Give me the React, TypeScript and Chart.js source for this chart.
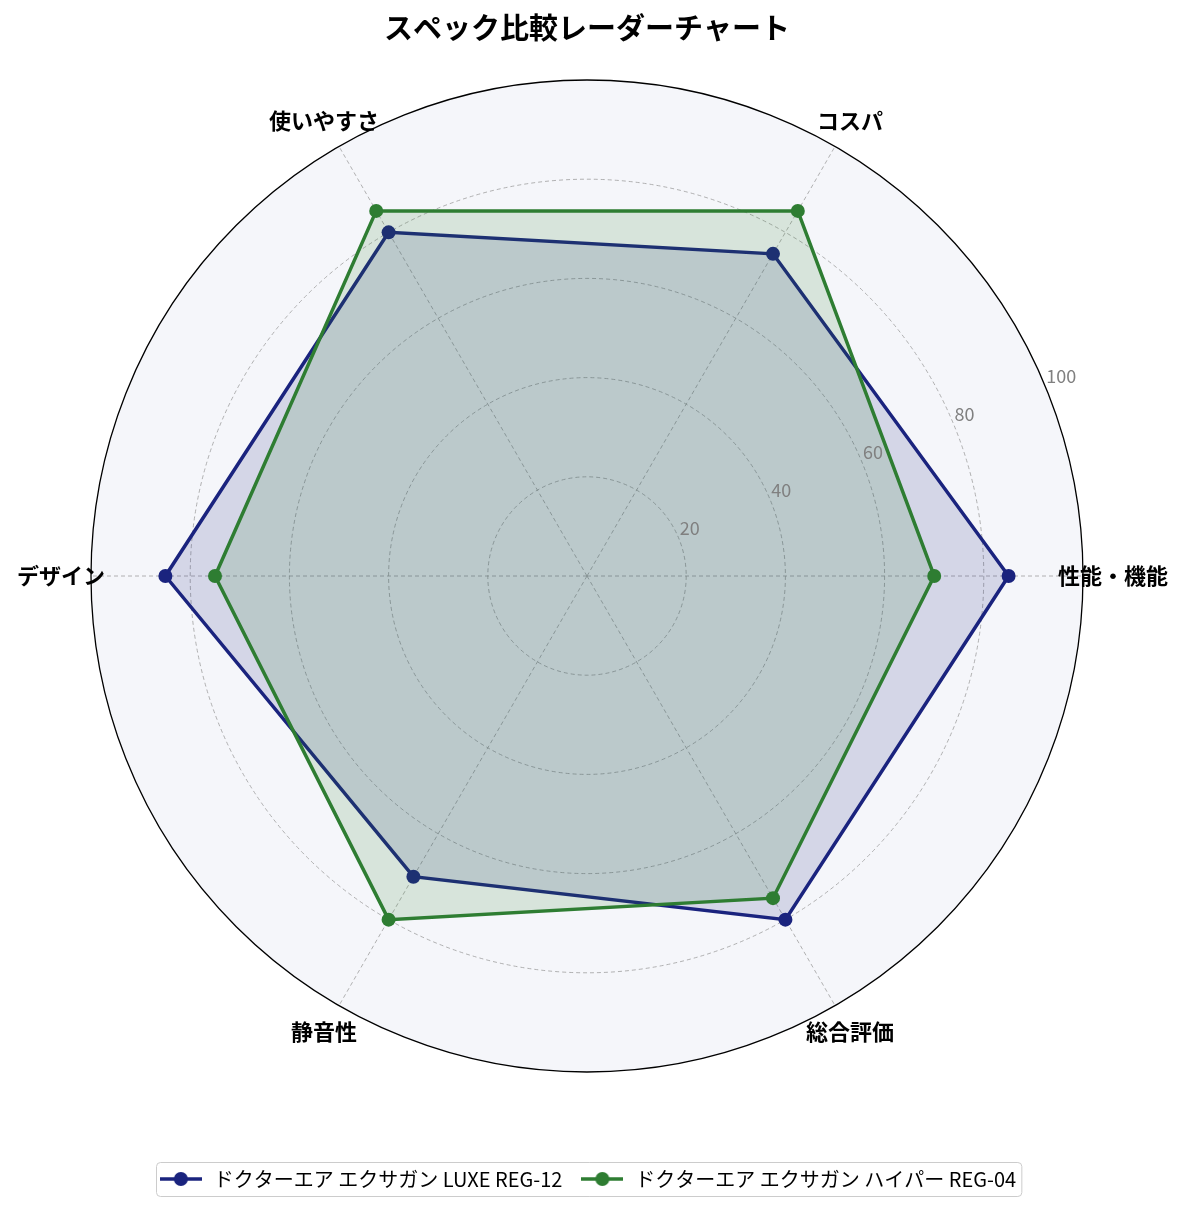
import { useEffect, useRef } from "react";
import { Chart, registerables } from "chart.js";

Chart.register(...registerables);

const FONT = '"Noto Sans CJK JP", "Noto Sans", sans-serif';

const categories = ["性能・機能", "コスパ", "使いやすさ", "デザイン", "静音性", "総合評価"];
const luxeScores = [85, 75, 80, 85, 70, 80];
const hyperScores = [70, 85, 85, 75, 80, 75];
const seriesNames = ["ドクターエア エクサガン LUXE REG-12", "ドクターエア エクサガン ハイパー REG-04"];
const radialTicks = [20, 40, 60, 80, 100];

// the original goes counter-clockwise from the right, Chart.js goes clockwise
const displayOrder = [0, 5, 4, 3, 2, 1];

const NAVY = "#1a237e";
const GREEN = "#2e7d32";

function legendMarker(color: string) {
  const c = document.createElement("canvas");
  c.width = 42;
  c.height = 18;
  const ctx = c.getContext("2d")!;
  ctx.strokeStyle = color;
  ctx.lineWidth = 3.5;
  ctx.beginPath();
  ctx.moveTo(0, 9);
  ctx.lineTo(42, 9);
  ctx.stroke();
  ctx.fillStyle = color;
  ctx.beginPath();
  ctx.arc(21, 9, 7, 0, Math.PI * 2);
  ctx.fill();
  return c;
}

const legendFrame = {
  id: "legendFrame",
  beforeDraw(chart: any) {
    const boxes = chart.legend?.legendHitBoxes || [];
    if (!boxes.length) return;
    const left = Math.min(...boxes.map((b: any) => b.left)) - 2;
    const right = Math.max(...boxes.map((b: any) => b.left + b.width)) + 5;
    const cy = boxes[0].top + boxes[0].height / 2;
    const ctx = chart.ctx;
    ctx.save();
    ctx.beginPath();
    ctx.roundRect(Math.round(left) + 0.5, Math.round(cy - 17) + 0.5, right - left, 34, 4);
    ctx.fillStyle = "#ffffff";
    ctx.fill();
    ctx.strokeStyle = "#cccccc";
    ctx.lineWidth = 1;
    ctx.stroke();
    ctx.restore();
  },
};

const axisText = {
  id: "axisText",
  afterDatasetsDraw(chart: any) {
    const scale = chart.scales.r;
    const ctx = chart.ctx;
    ctx.save();
    ctx.font = `bold 22px ${FONT}`;
    ctx.fillStyle = "#000000";
    ctx.textAlign = "center";
    ctx.textBaseline = "middle";
    chart.data.labels.forEach((label: string, i: number) => {
      const p = scale.getPointPosition(i, scale.drawingArea + 30);
      ctx.fillText(label, p.x, p.y);
    });
    ctx.font = `18px ${FONT}`;
    ctx.fillStyle = "#808080";
    ctx.textAlign = "left";
    ctx.textBaseline = "alphabetic";
    const a = Math.PI / 8;
    radialTicks.forEach((v) => {
      const d = scale.getDistanceFromCenterForValue(v);
      ctx.fillText(String(v), scale.xCenter + d * Math.cos(a) + 1, scale.yCenter - d * Math.sin(a) - 3);
    });
    ctx.restore();
  },
};

function RadarChart() {
  const canvasRef = useRef<HTMLCanvasElement | null>(null);
  useEffect(() => {
    if (!canvasRef.current) return;
    const markers = [legendMarker(NAVY), legendMarker(GREEN)];
    const chart = new Chart(canvasRef.current, {
      type: "radar",
      data: {
        labels: displayOrder.map((i) => categories[i]),
        datasets: [
          {
            label: seriesNames[0],
            data: displayOrder.map((i) => luxeScores[i]),
            borderColor: NAVY,
            backgroundColor: "rgba(26,35,126,0.15)",
            borderWidth: 3.5,
            pointRadius: 7,
            pointBackgroundColor: NAVY,
            pointBorderColor: NAVY,
            pointBorderWidth: 0,
            fill: true,
            order: 1,
          },
          {
            label: seriesNames[1],
            data: displayOrder.map((i) => hyperScores[i]),
            borderColor: GREEN,
            backgroundColor: "rgba(46,125,50,0.15)",
            borderWidth: 3.5,
            pointRadius: 7,
            pointBackgroundColor: GREEN,
            pointBorderColor: GREEN,
            pointBorderWidth: 0,
            fill: true,
            order: 0,
          },
        ],
      },
      options: {
        responsive: false,
        animation: false,
        layout: { padding: { left: 0, right: 11, top: 0, bottom: 12 } },
        scales: {
          r: {
            min: 0,
            max: 100,
            startAngle: 90,
            backgroundColor: "#f5f6fa",
            ticks: { display: false, stepSize: 20 },
            pointLabels: { display: false },
            grid: {
              circular: true,
              color: (c: any) => (c.tick && c.tick.value === 100 ? "#000000" : "#9e9e9e"),
              lineWidth: (c: any) => (c.tick && c.tick.value === 100 ? 1.3 : 0.8),
            },
            border: {
              dash: (c: any) => (c.tick && c.tick.value === 100 ? [] : [4, 3]),
            },
            angleLines: { color: "#9e9e9e", lineWidth: 0.8, borderDash: [4, 3] },
          },
        },
        plugins: {
          tooltip: { enabled: false },
          title: {
            display: true,
            text: "スペック比較レーダーチャート",
            color: "#000000",
            font: { size: 29, weight: "bold", family: FONT, lineHeight: 1.2 },
            padding: { top: 11, bottom: 34.2 },
          },
          legend: {
            position: "bottom",
            title: { display: true, text: "", padding: { top: 68, bottom: 0 }, font: { size: 10 } },
            labels: {
              usePointStyle: true,
              pointStyleWidth: 46,
              padding: 17,
              color: "#000000",
              font: { size: 20, family: FONT },
              generateLabels: (c: any) =>
                c.data.datasets.map((ds: any, i: number) => ({
                  text: ds.label,
                  fontColor: "#000000",
                  pointStyle: markers[i],
                  hidden: false,
                  datasetIndex: i,
                  lineWidth: 0,
                  strokeStyle: "rgba(0,0,0,0)",
                  fillStyle: "rgba(0,0,0,0)",
                })),
            },
          },
        },
      },
      plugins: [legendFrame, axisText],
    });
    return () => chart.destroy();
  }, []);
  return <canvas ref={canvasRef} width={1185} height={1211} style={{ display: "block" }} />;
}

export default function App() {
  useEffect(() => {
    document.body.style.margin = "0";
  }, []);
  return (
    <div style={{ width: 1185, height: 1211, background: "#ffffff" }}>
      <RadarChart />
    </div>
  );
}
